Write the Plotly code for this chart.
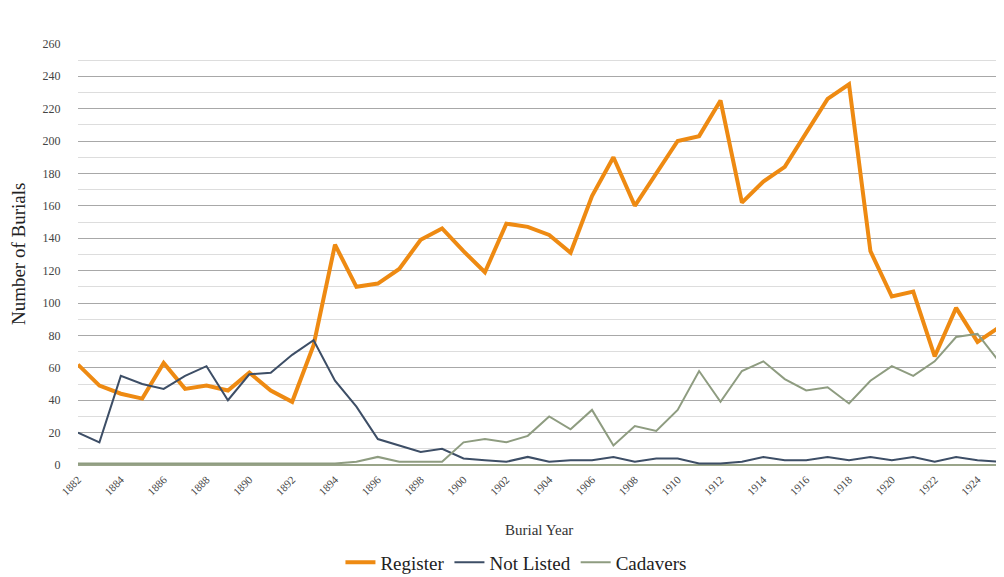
import plotly.graph_objects as go

years = list(range(1882, 1926))
register = [62, 49, 44, 41, 63, 47, 49, 46, 57, 46, 39, 74, 136, 110, 112, 121, 139, 146,
            132, 119, 149, 147, 142, 131, 166, 190, 160, 180, 200, 203, 225, 162, 175, 184,
            205, 226, 235, 132, 104, 107, 67, 97, 76, 85]
not_listed = [20, 14, 55, 50, 47, 55, 61, 40, 56, 57, 68, 77, 52, 36, 16, 12, 8, 10,
              4, 3, 2, 5, 2, 3, 3, 5, 2, 4, 4, 1, 1, 2, 5, 3, 3, 5, 3, 5, 3, 5, 2, 5, 3, 2]
cadavers = [1, 1, 1, 1, 1, 1, 1, 1, 1, 1, 1, 1, 1, 2, 5, 2, 2, 2,
            14, 16, 14, 18, 30, 22, 34, 12, 24, 21, 34, 58, 39, 58, 64, 53, 46, 48, 38, 52,
            61, 55, 64, 79, 81, 64]
xticks = list(range(1882, 1926, 2))
yticks = list(range(0, 261, 20))

font = "Liberation Serif"
fig = go.Figure()
fig.add_trace(go.Scatter(x=years, y=register, mode="lines", name="Register",
                         line=dict(color="#EE8A12", width=4)))
fig.add_trace(go.Scatter(x=years, y=not_listed, mode="lines", name="Not Listed",
                         line=dict(color="#3D4E66", width=2)))
fig.add_trace(go.Scatter(x=years, y=cadavers, mode="lines", name="Cadavers",
                         line=dict(color="#8E9C80", width=2)))

fig.update_layout(
    width=996, height=577,
    margin=dict(l=70, r=4, t=35, b=118),
    paper_bgcolor="white", plot_bgcolor="white",
    font=dict(family=font, color="#333333"),
    showlegend=True,
    legend=dict(orientation="h", x=0.475, xanchor="center", y=-0.231, yanchor="middle",
                font=dict(size=19, family=font, color="#222222")),
    xaxis=dict(range=[1882, 1925.05], tickvals=xticks, ticktext=[str(t) for t in xticks],
               tickangle=-45, tickfont=dict(size=11, family=font, color="#444444"),
               ticks="outside", ticklen=3, tickcolor="rgba(0,0,0,0)",
               showgrid=False, zeroline=False, showline=False, automargin=False),
    yaxis=dict(range=[0, 260.5], tickvals=yticks, ticktext=[str(t) for t in yticks],
               tickfont=dict(size=12, family=font, color="#444444"),
               ticks="outside", ticklen=14, tickcolor="rgba(0,0,0,0)",
               showgrid=True, gridcolor="#A8A8A8", gridwidth=1, zeroline=True,
               zerolinecolor="#9AA58A", zerolinewidth=2, showline=False, automargin=False,
               minor=dict(dtick=10, showgrid=True, gridcolor="#DDDDDD", gridwidth=1)),
    annotations=[
        dict(text="Burial Year", xref="paper", yref="paper", x=0.5, y=-0.153,
             xanchor="center", yanchor="middle", showarrow=False,
             font=dict(size=15, family=font, color="#333333")),
        dict(text="Number of Burials", xref="paper", yref="paper", x=-0.065, y=0.5,
             xanchor="center", yanchor="middle", textangle=-90, showarrow=False,
             font=dict(size=19, family=font, color="#222222")),
    ],
)

fig.write_html("out.html")
